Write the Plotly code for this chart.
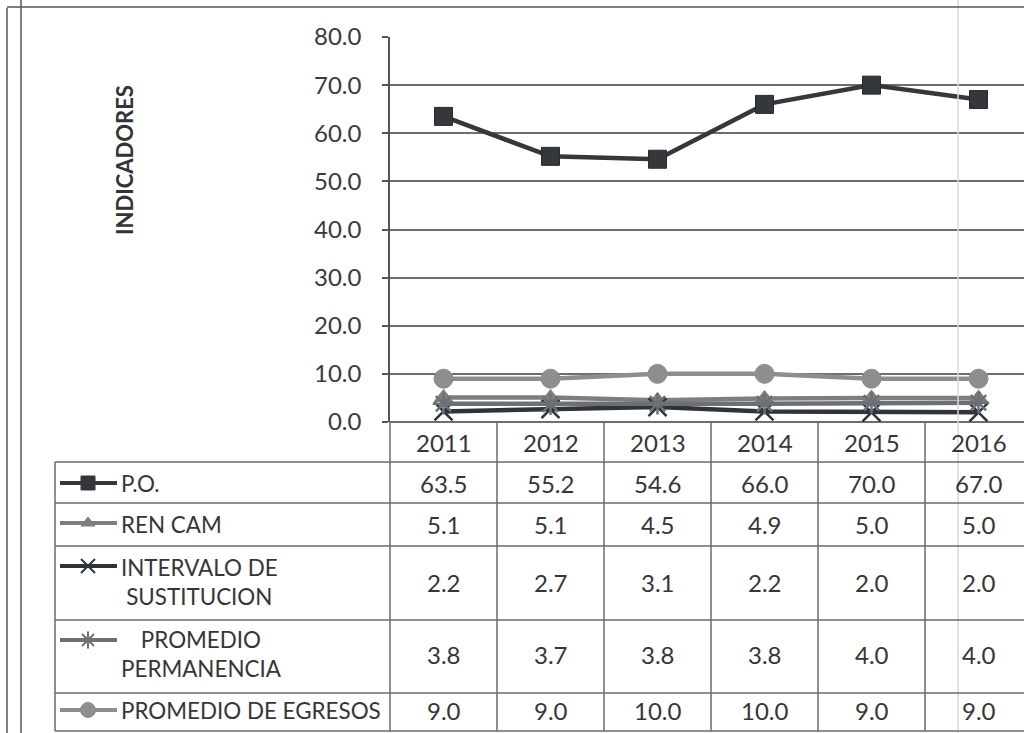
import plotly.graph_objects as go

# ---------------- data ----------------
years = ["2011", "2012", "2013", "2014", "2015", "2016"]
po = [63.5, 55.2, 54.6, 66.0, 70.0, 67.0]
ren_cam = [5.1, 5.1, 4.5, 4.9, 5.0, 5.0]
intervalo = [2.2, 2.7, 3.1, 2.2, 2.0, 2.0]
permanencia = [3.8, 3.7, 3.8, 3.8, 4.0, 4.0]
egresos = [9.0, 9.0, 10.0, 10.0, 9.0, 9.0]
series_names = ["P.O.", "REN CAM", "INTERVALO DE<br>SUSTITUCION",
                "PROMEDIO<br>PERMANENCIA", "PROMEDIO DE EGRESOS"]
series_values = [po, ren_cam, intervalo, permanencia, egresos]
y_title = "INDICADORES"

# ---------------- styles ----------------
W, H = 1024, 733
L = 390          # plot left (px)
COLW = 107       # category width (px)
TOP, BOT = 37, 422
FONT = "Lato"

colors = ["#34373c", "#7e7e7e", "#2f333a", "#6c6f76", "#8e8e8e"]
symbols = ["square", "triangle-up", "x-thin", "asterisk", "circle"]
msizes = [18, 16, 18, 18, 19]

def px2c(px):
    return (px - L) / COLW - 0.5

# table geometry (pixels)
row_edges = [462, 503, 546, 620, 693, 731]
label_left = 55
key_y = [483, 523, 566, 640, 710]
text_y = [483, 524, 582, 654, 710]

fig = go.Figure()

for name, vals, c, s, ms in zip(series_names, series_values, colors, symbols, msizes):
    mk = dict(symbol=s, size=ms, color=c)
    if s in ("x-thin", "asterisk"):
        mk["line"] = dict(color=c, width=2.5)
    else:
        mk["line"] = dict(color="#2a2a2a" if s == "square" else c, width=1)
    fig.add_trace(go.Scatter(x=years, y=vals, mode="lines+markers",
                             line=dict(color=c, width=4.5), marker=mk,
                             name=name.replace("<br>", " "), showlegend=False,
                             xaxis="x", yaxis="y", cliponaxis=False))

# legend keys inside the table
for c, s, ms, ky in zip(colors, symbols, msizes, key_y):
    mk = dict(symbol=s, size=ms - 4, color=c)
    if s in ("x-thin", "asterisk"):
        mk["line"] = dict(color=c, width=2)
    else:
        mk["line"] = dict(color=c, width=1)
    fig.add_trace(go.Scatter(x=[px2c(60), px2c(88), px2c(117)], y=[ky, ky, ky],
                             mode="lines", line=dict(color=c, width=4),
                             showlegend=False, hoverinfo="skip",
                             xaxis="x2", yaxis="y2"))
    fig.add_trace(go.Scatter(x=[px2c(88)], y=[ky], mode="markers", marker=mk,
                             showlegend=False, hoverinfo="skip",
                             xaxis="x2", yaxis="y2"))

shapes = []
frame = dict(color="#555555", width=1.5)
tline = dict(color="#6a6a6a", width=1.5)
# outer frames
shapes.append(dict(type="line", xref="x2", yref="y2", x0=px2c(7), x1=px2c(7), y0=8, y1=H, line=frame))
shapes.append(dict(type="line", xref="x2", yref="y2", x0=px2c(21), x1=px2c(21), y0=0, y1=H, line=frame))
shapes.append(dict(type="line", xref="x2", yref="y2", x0=px2c(7), x1=px2c(W), y0=7, y1=7, line=frame))
# scan artefact faint vertical line
shapes.append(dict(type="line", xref="x2", yref="y2", x0=px2c(958), x1=px2c(958), y0=0, y1=H,
                   line=dict(color="#dadada", width=1.5), layer="below"))
# table horizontal lines
for ry in row_edges:
    shapes.append(dict(type="line", xref="x2", yref="y2", x0=px2c(label_left), x1=px2c(W),
                       y0=ry, y1=ry, line=tline))
# table left border
shapes.append(dict(type="line", xref="x2", yref="y2", x0=px2c(label_left), x1=px2c(label_left),
                   y0=row_edges[0], y1=row_edges[-1], line=tline))
# column boundaries
for i in range(len(years) + 1):
    shapes.append(dict(type="line", xref="x2", yref="y2", x0=i - 0.5, x1=i - 0.5,
                       y0=BOT, y1=row_edges[-1], line=tline))

annotations = []
tcol = "#363636"
for i, yr in enumerate(years):
    annotations.append(dict(x=i, y=(BOT + row_edges[0]) / 2, xref="x2", yref="y2", text=yr,
                            showarrow=False, font=dict(family=FONT, size=24, color=tcol)))
for vals, ty in zip(series_values, text_y):
    for i, v in enumerate(vals):
        annotations.append(dict(x=i, y=ty, xref="x2", yref="y2", text=f"{v:.1f}",
                                showarrow=False, font=dict(family=FONT, size=24, color=tcol)))
for name, ty in zip(series_names, text_y):
    annotations.append(dict(x=px2c(119), y=ty, xref="x2", yref="y2", text=name,
                            xanchor="left", align="center", showarrow=False,
                            font=dict(family=FONT, size=22.4, color=tcol)))
annotations.append(dict(x=px2c(124), y=160, xref="x2", yref="y2", text=f"<b>{y_title}</b>",
                        textangle=-90, showarrow=False,
                        font=dict(family=FONT, size=22, color="#333333")))

fig.update_layout(
    width=W, height=H,
    margin=dict(l=0, r=0, t=0, b=0, autoexpand=False),
    paper_bgcolor="white", plot_bgcolor="rgba(0,0,0,0)",
    xaxis=dict(type="category", domain=[L / W, 1], range=[-0.5, px2c(W)],
               showticklabels=False, showgrid=False, zeroline=False, showline=False,
               ticks="", anchor="y", fixedrange=True),
    yaxis=dict(domain=[(H - BOT) / H, (H - TOP) / H], range=[0, 80], dtick=10,
               tickformat=".1f", showgrid=True, gridcolor="#6e6e6e", gridwidth=1.5,
               zeroline=True, zerolinecolor="#6e6e6e", zerolinewidth=1.5,
               showline=True, linecolor="#555555", linewidth=1.5,
               ticks="outside", ticklen=6, tickcolor="#555555", tickwidth=1.5,
               ticklabelstandoff=16, automargin=False, anchor="x",
               tickfont=dict(family=FONT, size=24, color="#3a3a3a")),
    xaxis2=dict(domain=[0, 1], range=[px2c(0), px2c(W)], visible=False, anchor="y2",
                fixedrange=True),
    yaxis2=dict(domain=[0, 1], range=[H, 0], visible=False, anchor="x2", fixedrange=True),
    shapes=shapes, annotations=annotations,
)

fig.write_html("out.html", config={"displayModeBar": False},
               post_script="document.body.style.margin='0px';document.body.style.overflow='hidden';")
